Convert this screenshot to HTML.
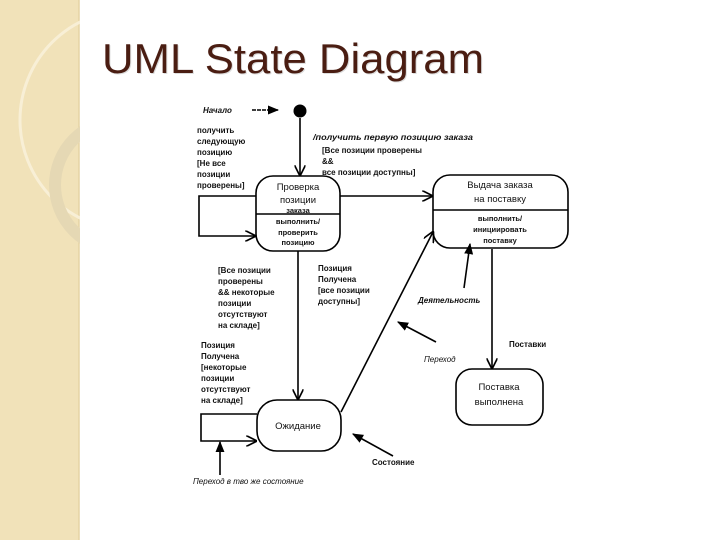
<!DOCTYPE html>
<html><head><meta charset="utf-8"><style>
html,body{margin:0;padding:0;width:720px;height:540px;overflow:hidden;background:#fff;}
svg{display:block;}
</style></head><body>
<svg width="720" height="540" viewBox="0 0 720 540" xmlns="http://www.w3.org/2000/svg" font-family="'Liberation Sans','Noto Sans CJK SC',sans-serif">
<defs>
<marker id="a" viewBox="0 0 10 10" refX="9" refY="5" markerWidth="7" markerHeight="7" orient="auto"><path d="M0,0 L10,5 L0,10" fill="none" stroke="#000" stroke-width="1.5"/></marker>
<marker id="f" viewBox="0 0 10 10" refX="9" refY="5" markerWidth="7" markerHeight="7" orient="auto"><path d="M0,1 L10,5 L0,9 z" fill="#000"/></marker>
</defs>
<rect x="0" y="0" width="79" height="540" fill="#f1e2b9"/>
<line x1="79" y1="0" x2="79" y2="540" stroke="#e6d3a4" stroke-width="1.5"/>
<circle cx="130" cy="120" r="110" fill="none" stroke="#f8efd6" stroke-width="3"/>
<circle cx="120" cy="185" r="65" fill="none" stroke="#e5d8b4" stroke-width="12"/>
<rect x="80" y="0" width="640" height="540" fill="#fff"/>
<text x="103" y="74" font-size="42" fill="#aaa" opacity="0.4" textLength="382" lengthAdjust="spacingAndGlyphs">UML State Diagram</text>
<text x="102" y="73" font-size="42" fill="#4a1d12" textLength="382" lengthAdjust="spacingAndGlyphs">UML State Diagram</text>

<g stroke="#000" stroke-width="1.6" fill="none">
<rect x="256" y="176" width="84" height="75" rx="17"/>
<line x1="256" y1="214" x2="340" y2="214"/>
<rect x="433" y="175" width="135" height="73" rx="17"/>
<line x1="433" y1="210" x2="568" y2="210"/>
<rect x="456" y="369" width="87" height="56" rx="16"/>
<rect x="257" y="400" width="84" height="51" rx="20"/>
<line x1="300" y1="118" x2="300" y2="175" marker-end="url(#a)"/>
<line x1="252" y1="110" x2="278" y2="110" stroke-dasharray="4 1" marker-end="url(#f)"/>
<polyline points="256,196 199,196 199,236 255,236" marker-end="url(#a)"/>
<line x1="340" y1="196" x2="432" y2="196" marker-end="url(#a)"/>
<line x1="298" y1="251" x2="298" y2="399" marker-end="url(#a)"/>
<line x1="341" y1="412" x2="433" y2="232" marker-end="url(#a)"/>
<polyline points="257,414 201,414 201,441 256,441" marker-end="url(#a)"/>
<line x1="220" y1="475" x2="220" y2="442" marker-end="url(#f)"/>
<line x1="464" y1="288" x2="470" y2="244" marker-end="url(#f)"/>
<line x1="492" y1="249" x2="492" y2="368" marker-end="url(#a)"/>
<line x1="436" y1="342" x2="398" y2="322" marker-end="url(#f)"/>
<line x1="393" y1="456" x2="353" y2="434" marker-end="url(#f)"/>
</g>
<circle cx="300" cy="111" r="6.5" fill="#000"/>

<g font-size="8" font-weight="bold" fill="#111">
<text x="203" y="113" font-style="italic">Начало</text>
<text x="197" y="133">получить</text>
<text x="197" y="144">следующую</text>
<text x="197" y="155">позицию</text>
<text x="197" y="166">[Не все</text>
<text x="197" y="177">позиции</text>
<text x="197" y="188">проверены]</text>
<text x="313" y="140" font-style="italic" textLength="160" lengthAdjust="spacingAndGlyphs">/получить первую позицию заказа</text>
<text x="322" y="153">[Все позиции проверены</text>
<text x="322" y="164">&amp;&amp;</text>
<text x="322" y="175">все позиции доступны]</text>
<g text-anchor="middle">
<text x="298" y="190" font-size="9.5" font-weight="normal">Проверка</text>
<text x="298" y="203" font-size="9.5" font-weight="normal">позиции</text>
<text x="298" y="213" font-size="7.5">заказа</text>
<text x="298" y="224" font-size="7.5">выполнить/</text>
<text x="298" y="235" font-size="7.5">проверить</text>
<text x="298" y="245" font-size="7.5">позицию</text>
<text x="500" y="188" font-size="9.5" font-weight="normal">Выдача заказа</text>
<text x="500" y="202" font-size="9.5" font-weight="normal">на поставку</text>
<text x="500" y="221" font-size="7.5">выполнить/</text>
<text x="500" y="232" font-size="7.5">инициировать</text>
<text x="500" y="243" font-size="7.5">поставку</text>
<text x="499" y="390" font-size="9.5" font-weight="normal">Поставка</text>
<text x="499" y="405" font-size="9.5" font-weight="normal">выполнена</text>
<text x="298" y="429" font-size="9.5" font-weight="normal">Ожидание</text>
</g>
<text x="218" y="273">[Все позиции</text>
<text x="218" y="284">проверены</text>
<text x="218" y="295">&amp;&amp; некоторые</text>
<text x="218" y="306">позиции</text>
<text x="218" y="317">отсутствуют</text>
<text x="218" y="328">на складе]</text>
<text x="318" y="271">Позиция</text>
<text x="318" y="282">Получена</text>
<text x="318" y="293">[все позиции</text>
<text x="318" y="304">доступны]</text>
<text x="201" y="348">Позиция</text>
<text x="201" y="359">Получена</text>
<text x="201" y="370">[некоторые</text>
<text x="201" y="381">позиции</text>
<text x="201" y="392">отсутствуют</text>
<text x="201" y="403">на складе]</text>
<text x="418" y="303" font-style="italic">Деятельность</text>
<text x="424" y="362" font-style="italic" font-weight="normal">Переход</text>
<text x="509" y="347">Поставки</text>
<text x="372" y="465">Состояние</text>
<text x="193" y="484" font-style="italic" font-weight="normal">Переход в тво же состояние</text>
</g>
</svg>
</body></html>
